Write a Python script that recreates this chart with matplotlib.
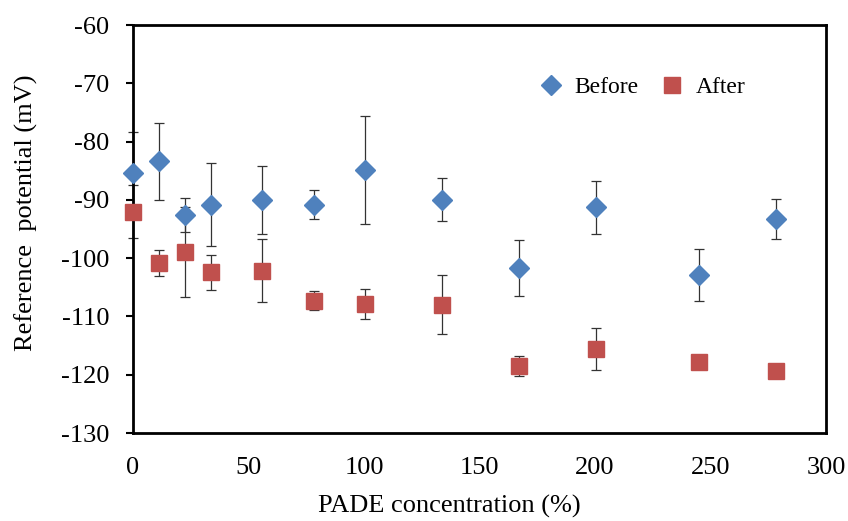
import matplotlib
matplotlib.use("Agg")
import matplotlib.pyplot as plt

plt.rcParams['font.family'] = ['Liberation Serif', 'DejaVu Serif']
plt.rcParams['axes.unicode_minus'] = False

conc = [0, 11.4, 22.5, 33.7, 56, 78.2, 100.6, 133.8, 167, 200.5, 245, 278.3]
before = [-85.4, -83.4, -92.6, -90.8, -90.0, -90.8, -84.9, -90.0, -101.7, -91.3, -102.9, -93.3]
before_err = [7.0, 6.6, 2.9, 7.1, 5.8, 2.5, 9.3, 3.7, 4.8, 4.5, 4.5, 3.5]
after = [-92.0, -100.8, -99.0, -102.4, -102.2, -107.3, -107.9, -108.0, -118.5, -115.6, -117.9, -119.3]
after_err = [4.5, 2.2, 7.7, 3.0, 5.4, 1.6, 2.6, 5.1, 1.7, 3.6, 0.0, 0.0]

xticks = [0, 50, 100, 150, 200, 250, 300]
yticks = [-130, -120, -110, -100, -90, -80, -70, -60]

fig = plt.figure(figsize=(8.48, 5.21), dpi=100)
ax = fig.add_axes([133/848, 1-433/521, (826-133)/848, (433-25)/521])

blue = '#4F81BD'
red = '#C0504D'
errc = '#333333'

for vals, errs in ((after, after_err), (before, before_err)):
    _, caps, bars = ax.errorbar(conc, vals, yerr=errs, fmt='none', ecolor=errc,
                                elinewidth=0.9, capsize=3.5, capthick=0.9, zorder=2)
    for c in caps:
        c.set_clip_on(False)
    for b in bars:
        b.set_clip_on(False)
ax.plot(conc, after, linestyle='none', marker='s', ms=12, color=red,
        markeredgecolor=red, label='After', zorder=3, clip_on=False)
ax.plot(conc, before, linestyle='none', marker='D', ms=10, color=blue,
        markeredgecolor=blue, label='Before', zorder=4, clip_on=False)

ax.set_xlim(0, 300)
ax.set_ylim(-130, -60)
ax.set_xticks(xticks)
ax.set_yticks(yticks)
ax.tick_params(axis='x', length=0, pad=17, labelsize=19)
ax.tick_params(axis='y', length=5, width=1.5, direction='out', pad=12, labelsize=19)
for s in ax.spines.values():
    s.set_linewidth(2)
    s.set_color('black')

ax.set_xlabel('PADE concentration (%)', fontsize=19)
ax.set_ylabel('Reference  potential (mV)', fontsize=19)
ax.xaxis.set_label_coords(0.456, -0.152)
ax.yaxis.set_label_coords(-0.137, 0.539)

h, l = ax.get_legend_handles_labels()
ax.legend([h[1], h[0]], [l[1], l[0]], loc='upper right', bbox_to_anchor=(0.915, 0.925),
          ncol=2, frameon=False, fontsize=17, handletextpad=0.4, columnspacing=0.85,
          handlelength=1.2)

fig.savefig('out.png', dpi=100)
